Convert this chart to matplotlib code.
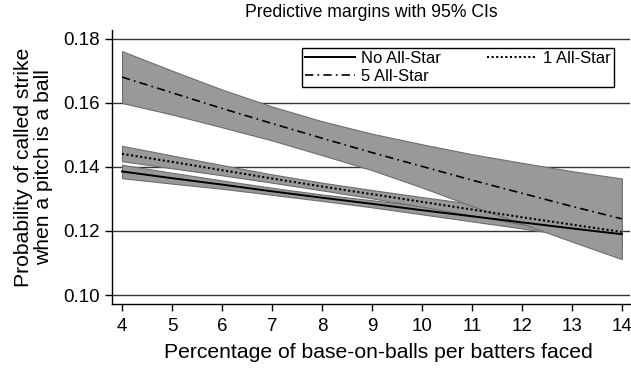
import matplotlib
matplotlib.use("Agg")
import matplotlib.pyplot as plt

plt.rcParams["font.family"] = ["Liberation Sans", "DejaVu Sans"]

# percentage of base-on-balls per batters faced
bb_pct = [4, 5, 6, 7, 8, 9, 10, 11, 12, 13, 14]

# predicted probability of called strike, with 95% CI bounds
no_as = [0.1386, 0.1365, 0.1345, 0.1324, 0.1304, 0.1285, 0.1265, 0.1246, 0.1227, 0.1208, 0.1190]
no_as_lo = [0.1365, 0.1348, 0.1332, 0.1313, 0.1294, 0.1274, 0.1252, 0.1230, 0.1208, 0.1185, 0.1163]
no_as_hi = [0.1407, 0.1382, 0.1358, 0.1335, 0.1314, 0.1296, 0.1278, 0.1262, 0.1246, 0.1231, 0.1217]

one_as = [0.1441, 0.1416, 0.1390, 0.1364, 0.1339, 0.1315, 0.1291, 0.1267, 0.1243, 0.1220, 0.1197]
one_as_lo = [0.1418, 0.1396, 0.1374, 0.1351, 0.1327, 0.1302, 0.1276, 0.1249, 0.1221, 0.1194, 0.1167]
one_as_hi = [0.1466, 0.1436, 0.1406, 0.1377, 0.1351, 0.1328, 0.1306, 0.1285, 0.1265, 0.1246, 0.1227]

five_as = [0.1681, 0.1632, 0.1583, 0.1536, 0.1490, 0.1445, 0.1402, 0.1359, 0.1318, 0.1277, 0.1238]
five_as_lo = [0.1600, 0.1564, 0.1524, 0.1483, 0.1437, 0.1390, 0.1336, 0.1278, 0.1223, 0.1167, 0.1112]
five_as_hi = [0.1762, 0.1701, 0.1642, 0.1589, 0.1543, 0.1504, 0.1471, 0.1440, 0.1413, 0.1387, 0.1364]

y_ticks = [0.10, 0.12, 0.14, 0.16, 0.18]
y_labels = ["0.10", "0.12", "0.14", "0.16", "0.18"]

fig = plt.figure(figsize=(6.31, 3.68), dpi=100)
ax = fig.add_axes([0.1775, 0.174, 0.8215, 0.7445])

# Gridlines behind everything.
for yv in y_ticks:
    ax.axhline(yv, color="#333333", linewidth=1.0, zorder=0)

# Confidence bands first, lines on top.
band = dict(facecolor="#999999", edgecolor="#6e6e6e", linewidth=0.8)
ax.fill_between(bb_pct, no_as_lo, no_as_hi, zorder=1, **band)
ax.fill_between(bb_pct, one_as_lo, one_as_hi, zorder=1, **band)
ax.fill_between(bb_pct, five_as_lo, five_as_hi, zorder=1, **band)

h_no, = ax.plot(bb_pct, no_as, color="black", linewidth=1.4, zorder=3,
                label="No All-Star")
h_one, = ax.plot(bb_pct, one_as, color="black", linewidth=1.5,
                 linestyle=(0, (1, 1.2)), zorder=3, label="1 All-Star")
h_five, = ax.plot(bb_pct, five_as, color="black", linewidth=1.2,
                  linestyle=(0, (5, 2.5, 1, 2.5)), zorder=3, label="5 All-Star")

ax.set_xlim(3.8, 14.17)
ax.set_ylim(0.0972, 0.1828)
ax.set_xticks(bb_pct)
ax.set_yticks(y_ticks)
ax.set_yticklabels(y_labels)
ax.tick_params(axis="both", direction="out", length=5, width=1,
               labelsize=13.5, color="black")
ax.tick_params(axis="y", pad=4)
ax.tick_params(axis="x", pad=5)

for side in ["top", "right"]:
    ax.spines[side].set_visible(False)
for side in ["left", "bottom"]:
    ax.spines[side].set_linewidth(1.0)

ax.set_title("Predictive margins with 95% CIs", fontsize=12.7, pad=9)
ax.set_xlabel("Percentage of base-on-balls per batters faced", fontsize=15.2,
              labelpad=6, x=0.514)
ax.set_ylabel("Probability of called strike\nwhen a pitch is a ball",
              fontsize=15.2, labelpad=7, linespacing=1.05)

leg = ax.legend([h_no, h_five, h_one], ["No All-Star", "5 All-Star", "1 All-Star"],
                ncol=2, loc="upper right", bbox_to_anchor=(0.968, 0.935),
                borderaxespad=0, fancybox=False, framealpha=1,
                edgecolor="black", fontsize=12, handlelength=3.0,
                handletextpad=0.35, columnspacing=2.75, labelspacing=0.15,
                borderpad=0.2)
leg.get_frame().set_linewidth(1.0)

fig.savefig("out.png", dpi=100)
